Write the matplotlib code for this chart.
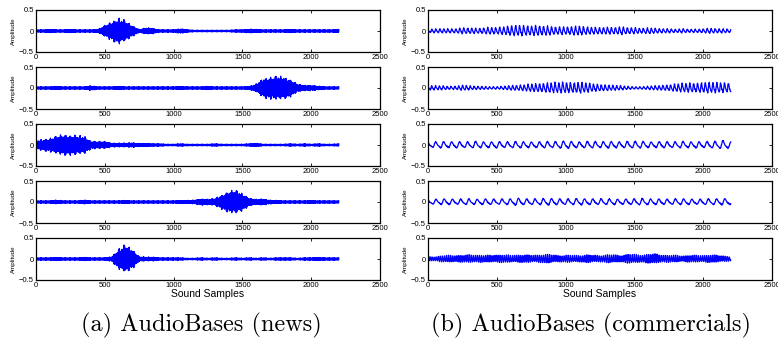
import numpy as np
import matplotlib.pyplot as plt
import matplotlib

matplotlib.rcParams.update({'font.family': 'Liberation Sans', 'font.size': 5.5})

# envelope of each waveform, read every 50 samples (0 .. 2200)
env_pos = list(range(0, 2201, 50))

news1 = [0.03, 0.03, 0.04, 0.03, 0.03, 0.04, 0.03, 0.03, 0.03, 0.04, 0.14, 0.24, 0.33, 0.26, 0.14,
         0.04, 0.08, 0.07, 0.03, 0.03, 0.03, 0.06, 0.03, 0.02, 0.02, 0.02, 0.02, 0.02, 0.02, 0.03,
         0.03, 0.05, 0.04, 0.03, 0.03, 0.03, 0.03, 0.04, 0.03, 0.03, 0.03, 0.03, 0.03, 0.03, 0.04]
news2 = [0.03, 0.03, 0.03, 0.04, 0.03, 0.03, 0.03, 0.03, 0.06, 0.03, 0.03, 0.03, 0.04, 0.03, 0.03,
         0.03, 0.03, 0.03, 0.03, 0.03, 0.03, 0.04, 0.03, 0.03, 0.03, 0.04, 0.03, 0.03, 0.03, 0.03,
         0.03, 0.04, 0.10, 0.24, 0.28, 0.30, 0.28, 0.22, 0.10, 0.07, 0.07, 0.05, 0.03, 0.03, 0.03]
news3 = [0.12, 0.14, 0.17, 0.22, 0.26, 0.25, 0.24, 0.22, 0.10, 0.09, 0.09, 0.05, 0.05, 0.05, 0.06,
         0.04, 0.04, 0.03, 0.03, 0.02, 0.02, 0.03, 0.02, 0.02, 0.02, 0.02, 0.03, 0.02, 0.02, 0.02,
         0.02, 0.03, 0.04, 0.02, 0.02, 0.02, 0.02, 0.03, 0.02, 0.03, 0.02, 0.03, 0.02, 0.02, 0.03]
news4 = [0.03, 0.03, 0.03, 0.05, 0.03, 0.03, 0.03, 0.05, 0.03, 0.03, 0.03, 0.03, 0.03, 0.04, 0.03,
         0.03, 0.03, 0.03, 0.03, 0.03, 0.03, 0.04, 0.04, 0.05, 0.08, 0.07, 0.09, 0.18, 0.27, 0.30,
         0.22, 0.10, 0.07, 0.08, 0.05, 0.04, 0.03, 0.03, 0.03, 0.03, 0.04, 0.03, 0.03, 0.03, 0.03]
news5 = [0.03, 0.03, 0.03, 0.04, 0.03, 0.03, 0.03, 0.04, 0.03, 0.03, 0.03, 0.06, 0.25, 0.36, 0.25,
         0.06, 0.05, 0.05, 0.03, 0.03, 0.03, 0.03, 0.02, 0.02, 0.03, 0.02, 0.03, 0.02, 0.02, 0.03,
         0.02, 0.03, 0.02, 0.03, 0.02, 0.03, 0.03, 0.03, 0.02, 0.03, 0.03, 0.04, 0.03, 0.03, 0.03]

comm1 = [0.04, 0.05, 0.05, 0.05, 0.05, 0.07, 0.07, 0.06, 0.07, 0.08, 0.08, 0.09, 0.12, 0.12, 0.12,
         0.11, 0.12, 0.11, 0.10, 0.09, 0.09, 0.10, 0.11, 0.09, 0.08, 0.08, 0.08, 0.08, 0.09, 0.08,
         0.07, 0.06, 0.07, 0.06, 0.05, 0.05, 0.04, 0.05, 0.04, 0.04, 0.05, 0.06, 0.05, 0.05, 0.04]
comm2 = [0.06, 0.05, 0.05, 0.04, 0.04, 0.06, 0.05, 0.04, 0.04, 0.03, 0.03, 0.04, 0.06, 0.06, 0.07,
         0.09, 0.10, 0.11, 0.12, 0.12, 0.13, 0.12, 0.13, 0.11, 0.09, 0.08, 0.07, 0.06, 0.05, 0.04,
         0.03, 0.03, 0.04, 0.05, 0.06, 0.07, 0.09, 0.10, 0.11, 0.11, 0.12, 0.12, 0.12, 0.12, 0.11]
comm3 = [0.06, 0.07, 0.08, 0.07, 0.08, 0.07, 0.07, 0.08, 0.07, 0.07, 0.08, 0.07, 0.07, 0.08, 0.07,
         0.07, 0.07, 0.08, 0.07, 0.08, 0.09, 0.08, 0.07, 0.08, 0.08, 0.07, 0.08, 0.08, 0.07, 0.08,
         0.08, 0.08, 0.07, 0.07, 0.08, 0.07, 0.07, 0.08, 0.07, 0.08, 0.07, 0.08, 0.08, 0.10, 0.07]
comm4 = [0.05, 0.06, 0.07, 0.07, 0.06, 0.07, 0.07, 0.06, 0.07, 0.07, 0.06, 0.07, 0.07, 0.09, 0.07,
         0.07, 0.07, 0.08, 0.08, 0.07, 0.07, 0.07, 0.08, 0.07, 0.07, 0.07, 0.07, 0.07, 0.06, 0.07,
         0.07, 0.08, 0.07, 0.07, 0.07, 0.06, 0.07, 0.07, 0.07, 0.06, 0.07, 0.07, 0.07, 0.08, 0.07]
comm5 = [0.05, 0.05, 0.07, 0.08, 0.08, 0.08, 0.09, 0.09, 0.08, 0.08, 0.09, 0.09, 0.08, 0.09, 0.09,
         0.08, 0.09, 0.10, 0.09, 0.08, 0.08, 0.08, 0.08, 0.09, 0.08, 0.08, 0.09, 0.09, 0.08, 0.10,
         0.10, 0.09, 0.10, 0.11, 0.09, 0.08, 0.08, 0.07, 0.08, 0.08, 0.08, 0.09, 0.08, 0.07, 0.05]

news = [news1, news2, news3, news4, news5]
comm = [comm1, comm2, comm3, comm4, comm5]
# oscillation period (samples) of each commercial clip
comm_period = [29, 28, 58, 60, 15]

xticks = [0, 500, 1000, 1500, 2000, 2500]
yticks = [-0.5, 0, 0.5]
yticklabels = ['\u22120.5', '0', '0.5']

n = np.arange(0, 2201)


def news_wave(env):
    e = np.interp(n, env_pos, env)
    # dense carrier, with a mild wobble on its height to make the edge ragged
    t = 0.78 + 0.22 * np.cos(2 * np.pi * n / 23.7) * np.cos(2 * np.pi * n / 71.3)
    return e * t * np.cos(2 * np.pi * 0.41 * n)


def comm_wave(env, period):
    e = np.interp(n, env_pos, env)
    c = (np.cos(2 * np.pi * n / period) + 0.3 * np.cos(4 * np.pi * n / period + 1.0)
         + 0.2 * np.cos(2 * np.pi * n / 7.3) * np.cos(2 * np.pi * n / 97.0))
    return e * c / 1.2


W, H = 778, 339
fig = plt.figure(figsize=(W / 100, H / 100), dpi=100)

cols = [(36, news, None), (428, comm, comm_period)]
for x0, series, periods in cols:
    for i in range(5):
        top = 10 + 57 * i
        ax = fig.add_axes([x0 / W, 1 - (top + 42) / H, 344 / W, 42 / H])
        if periods is None:
            y = news_wave(series[i])
        else:
            y = comm_wave(series[i], periods[i])
        ax.plot(n, y, color='#0000ff', lw=0.9)
        ax.set_xlim(0, 2500)
        ax.set_ylim(-0.5, 0.5)
        ax.set_xticks(xticks)
        ax.set_yticks(yticks)
        ax.set_yticklabels(yticklabels)
        ax.tick_params(direction='in', top=True, right=True, length=2.5, width=0.6, pad=1.5)
        for s in ax.spines.values():
            s.set_linewidth(0.9)
        ax.set_ylabel('Amplitude', fontsize=4.5, labelpad=2)
        if i == 4:
            ax.set_xlabel('Sound Samples', fontsize=7.5, labelpad=0)

fig.text(201 / W, 1 - 325 / H, '(a) AudioBases (news)', family='cmr10', fontsize=17.5,
         ha='center', va='center')
fig.text(591 / W, 1 - 325 / H, '(b) AudioBases (commercials)', family='cmr10', fontsize=17.5,
         ha='center', va='center')

fig.savefig('out.png', dpi=100)
